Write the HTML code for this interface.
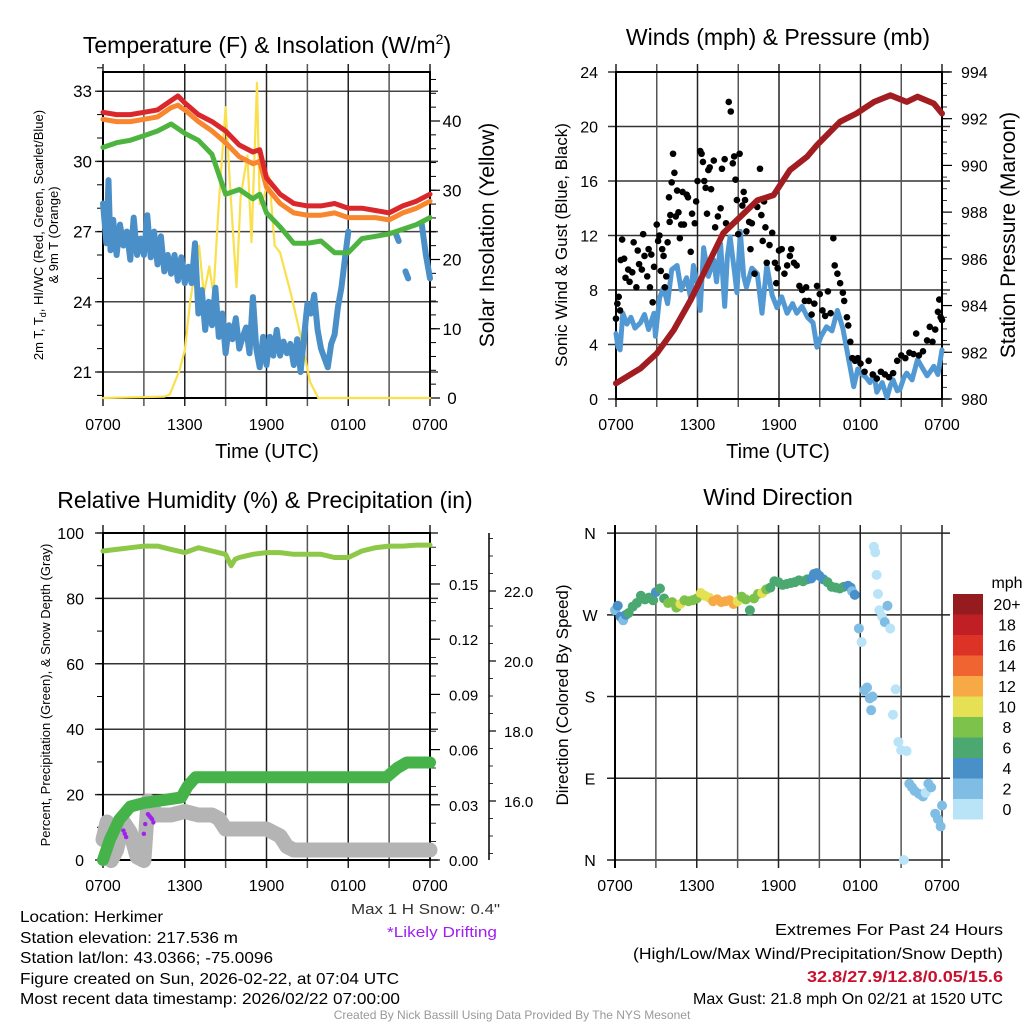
<!DOCTYPE html>
<html><head><meta charset="utf-8"><style>
body{margin:0;background:#fff}
svg{display:block;font-family:"Liberation Sans",sans-serif}
</style></head><body>
<svg id="fig" width="1024" height="1024" viewBox="0 0 1024 1024" xmlns="http://www.w3.org/2000/svg">
<rect width="1024" height="1024" fill="#fff"/>
<g id="tl"></g>
<g id="tr"></g>
<g id="bl"></g>
<g id="br"></g>
<text x="267" y="53" font-size="23" text-anchor="middle">Temperature (F) &amp; Insolation (W/m<tspan font-size="14" dy="-9">2</tspan><tspan dy="9">)</tspan></text>
<text x="778" y="45" font-size="23" text-anchor="middle">Winds (mph) &amp; Pressure (mb)</text>
<text x="265" y="508" font-size="23" text-anchor="middle">Relative Humidity (%) &amp; Precipitation (in)</text>
<text x="778" y="505" font-size="23" text-anchor="middle">Wind Direction</text>
<text x="267" y="458" font-size="20" text-anchor="middle">Time (UTC)</text>
<text x="778" y="458" font-size="20" text-anchor="middle">Time (UTC)</text>
<text transform="translate(43,235) rotate(-90)" font-size="13" text-anchor="middle">2m T, T<tspan font-size="9" dy="3">d</tspan><tspan dy="-3">, HI/WC (Red, Green, Scarlet/Blue)</tspan></text>
<text transform="translate(58,235) rotate(-90)" font-size="13" text-anchor="middle">&amp; 9m T (Orange)</text>
<text transform="translate(494,235) rotate(-90)" font-size="21" text-anchor="middle">Solar Insolation (Yellow)</text>
<text transform="translate(567,245) rotate(-90)" font-size="17" text-anchor="middle">Sonic Wind &amp; Gust (Blue, Black)</text>
<text transform="translate(1015,235) rotate(-90)" font-size="21" text-anchor="middle">Station Pressure (Maroon)</text>
<text transform="translate(50,695) rotate(-90)" font-size="13" text-anchor="middle">Percent, Precipitation (Green), &amp; Snow Depth (Gray)</text>
<text transform="translate(568,695) rotate(-90)" font-size="17" text-anchor="middle">Direction (Colored By Speed)</text>
<text x="351" y="914" font-size="15" fill="#333" textLength="149" lengthAdjust="spacingAndGlyphs">Max 1 H Snow: 0.4"</text>
<text x="387" y="937" font-size="15" fill="#a020f0" textLength="110" lengthAdjust="spacingAndGlyphs">*Likely Drifting</text>
<g font-size="16">
<text x="20" y="922" textLength="143" lengthAdjust="spacingAndGlyphs">Location: Herkimer</text>
<text x="20" y="943" textLength="218" lengthAdjust="spacingAndGlyphs">Station elevation: 217.536 m</text>
<text x="20" y="963" textLength="253" lengthAdjust="spacingAndGlyphs">Station lat/lon: 43.0366; -75.0096</text>
<text x="20" y="984" textLength="379" lengthAdjust="spacingAndGlyphs">Figure created on Sun, 2026-02-22, at 07:04 UTC</text>
<text x="20" y="1004" textLength="380" lengthAdjust="spacingAndGlyphs">Most recent data timestamp: 2026/02/22 07:00:00</text>
</g>
<g font-size="16">
<text x="775" y="935" textLength="228" lengthAdjust="spacingAndGlyphs">Extremes For Past 24 Hours</text>
<text x="633" y="959" textLength="370" lengthAdjust="spacingAndGlyphs">(High/Low/Max Wind/Precipitation/Snow Depth)</text>
<text x="807" y="982" fill="#c8102e" font-weight="bold" textLength="196" lengthAdjust="spacingAndGlyphs">32.8/27.9/12.8/0.05/15.6</text>
<text x="693" y="1004" textLength="310" lengthAdjust="spacingAndGlyphs">Max Gust: 21.8 mph On 02/21 at 1520 UTC</text>
</g>
<text x="512" y="1019" font-size="12" fill="#999" text-anchor="middle">Created By Nick Bassill Using Data Provided By The NYS Mesonet</text>
</svg>
<script>
// ---------- DATA ----------
const timeLabels = ["0700","1300","1900","0100","0700"];
const tempHours = [0,1,2,3,4,5,5.5,6,7,8,9,10,11,11.5,12,13,14,15,16,17,18,19,20,21,22,23,24];
const temp2m =    [32.1,32.0,32.0,32.1,32.2,32.6,32.8,32.5,32.0,31.7,31.3,30.7,30.4,30.5,29.3,28.6,28.2,28.1,28.1,28.2,28.0,28.0,27.9,27.8,28.1,28.3,28.6];
const temp9m =    [31.8,31.7,31.7,31.8,31.9,32.3,32.4,32.2,31.7,31.3,30.8,30.2,29.9,30.0,28.9,28.2,27.8,27.7,27.7,27.8,27.6,27.6,27.6,27.5,27.8,28.0,28.3];
const heatIndex = [30.6,30.8,30.9,31.1,31.3,31.6,31.4,31.2,30.9,30.3,28.6,28.8,28.4,28.6,27.8,27.2,26.5,26.5,26.6,26.1,26.1,26.7,26.8,26.9,27.1,27.3,27.6];
const dewHours = [0,0.25,0.4,0.55,0.75,1,1.25,1.5,1.75,2,2.25,2.5,2.75,3,3.25,3.5,3.75,4,4.25,4.5,4.75,5,5.25,5.5,5.75,6,6.25,6.5,6.75,7,7.25,7.5,7.75,8,8.25,8.5,8.75,9,9.25,9.5,9.75,10,10.25,10.5,10.75,11,11.25,11.5,11.75,12,12.25,12.5,12.75,13,13.25,13.5,13.75,14,14.25,14.5,14.75,15,15.25,15.5,15.75,16,16.25,16.5,16.75,17,17.25,17.5,17.75,18,null,21.5,21.7,null,22.2,22.4,null,23.4,23.7,24];
const dewValues = [28.2,26.5,29.2,26.2,27.5,26.0,27.3,26.4,27.0,25.8,27.6,26.0,26.7,26.0,27.7,25.9,27.0,25.6,26.8,25.3,26.0,25.2,26.0,24.9,25.9,24.8,25.5,24.8,26.5,23.5,24.5,22.8,24.0,23.0,24.6,22.5,23.5,21.8,23.0,22.4,23.3,22.0,22.5,22.9,21.8,24.2,22.0,21.2,22.5,21.3,22.5,21.7,22.8,21.7,22.3,21.8,22.2,21.3,22.4,21.0,22.5,23.9,23.5,24.3,22.8,22.0,21.6,21.2,22.2,22.6,23.8,24.6,25.8,27.0,null,26.9,26.6,null,25.3,25.0,null,27.3,26.0,25.0];
const solarHours = [0,4.5,4.9,5.6,6.0,6.4,7.05,7.4,7.8,8.1,8.5,9.0,9.3,9.8,10.1,10.6,10.9,11.3,11.5,11.8,12.2,12.6,13.0,13.8,14.5,15.2,15.8,24];
const solarValues = [0,0.2,0.5,3.9,6.9,14,22,15,19,15,28,42,31.5,16,29,35,22.5,45.5,28,29,32,22,21,15,9,2.3,0,0];

const windHours = [0,0.15,0.3,0.5,0.8,1.1,1.4,1.8,2.1,2.4,2.8,2.9,3.2,3.5,3.8,4.1,4.5,4.8,5.2,5.5,5.7,6.0,6.2,6.45,6.8,7.2,7.4,7.7,8.0,8.2,8.4,8.7,8.9,9.15,9.4,9.6,10.0,10.4,10.75,11.1,11.5,11.85,12.2,12.6,13.0,13.3,13.7,14.1,14.5,14.8,15.1,15.5,15.9,16.3,16.7,17.0,17.3,17.5,17.8,18.0,18.4,18.7,19.0,19.2,19.6,19.95,20.2,20.4,20.7,20.9,21.2,21.4,21.8,22.2,22.6,22.9,23.2,23.4,23.7,24];
const windSpeed = [4.8,3.8,3.6,6.3,5.5,6.0,5.2,5.6,6.2,5.1,6.3,4.6,7.4,8.2,7.0,9.5,9.8,8.0,8.9,7.4,9.8,8.4,6.5,11.1,9.0,10.2,8.6,11.4,6.8,10.5,11.9,9.5,7.8,12.3,9.0,8.2,9.6,9.2,6.3,9.8,7.6,6.7,7.5,6.3,7.0,6.3,6.8,6.0,5.6,3.8,4.6,5.3,5.0,6.5,5.2,3.6,2.0,0.9,2.2,1.9,1.6,1.2,1.8,0.5,1.2,0.1,1.0,1.4,0.6,0.7,1.6,1.9,1.4,2.9,2.2,1.7,2.1,2.4,1.8,3.6];
const gustHours = [0,0.1,0.2,0.3,0.35,0.45,0.6,0.7,0.9,1.0,1.2,1.3,1.5,1.6,1.7,1.9,2.0,2.1,2.3,2.4,2.5,2.6,2.7,2.8,3.0,3.1,3.2,3.3,3.4,3.5,3.6,3.7,3.8,3.9,3.95,4.0,4.1,4.2,4.3,4.4,4.5,4.6,4.7,4.8,4.9,5.0,5.2,5.3,5.5,5.6,5.8,5.9,6.0,6.2,6.3,6.4,6.5,6.6,6.7,6.8,6.9,7.0,7.2,7.3,7.5,7.7,7.8,8.0,8.1,8.3,8.45,8.6,8.7,8.8,8.9,9.0,9.1,9.3,9.4,9.5,9.6,9.8,9.9,10.0,10.2,10.4,10.6,10.7,10.8,10.9,11.0,11.1,11.3,11.5,11.7,11.8,11.9,12.0,12.2,12.4,12.6,12.8,12.9,13.1,13.3,13.5,13.7,13.9,14.0,14.2,14.4,14.6,14.8,15.0,15.2,15.4,15.6,15.8,16.0,16.1,16.3,16.5,16.7,16.8,17.0,17.1,17.25,17.4,17.6,17.8,18.0,18.3,18.6,18.9,19.2,19.5,19.8,20.1,20.4,20.7,21.0,21.3,21.6,21.9,22.1,22.3,22.6,22.9,23.1,23.3,23.5,23.7,23.8,23.9,24.0];
const gustValues = [5.9,7.0,7.5,6.5,10.2,11.7,10.3,8.9,9.5,8.6,9.3,11.5,8.2,10.9,9.9,9.5,12.1,10.5,9.0,11.0,8.2,10.6,7.1,9.7,12.8,11.6,12.0,9.4,11.0,10.5,8.2,9.0,11.5,14.8,13.0,13.5,15.9,18.0,16.6,13.4,15.3,13.7,11.8,12.8,15.2,12.8,15.0,14.8,10.8,13.6,12.9,14.5,16.0,18.2,18.0,17.4,16.0,15.5,13.6,16.8,17.0,15.4,17.5,12.6,13.4,14.0,16.9,17.6,12.9,21.8,21.1,17.3,17.8,16.1,14.6,12.1,18.0,14.2,15.2,14.6,12.3,13.0,11.0,12.9,9.2,14.1,16.9,13.5,11.6,14.5,12.6,10.0,11.3,12.2,10.0,8.5,9.6,10.9,11.0,9.2,9.8,10.5,11.0,10.0,9.8,8.3,8.0,7.2,8.2,7.2,6.2,7.0,8.3,7.7,6.5,6.1,7.9,6.3,11.8,9.8,9.2,8.5,7.8,7.2,6.0,5.4,4.2,3.0,2.8,3.0,2.6,2.0,2.8,1.8,1.5,2.0,1.8,1.6,1.9,2.8,3.2,3.0,3.4,3.3,4.8,3.2,3.5,4.3,5.3,4.2,5.1,6.4,7.3,6.0,5.8,6.2];
const pressHours = [0,1.8,3.0,4.25,5.5,6.7,7.9,9.15,10.4,11.6,12.8,14.06,14.8,16.5,17.7,19.0,20.2,21.4,22.2,23.4,24];
const pressValues = [980.67,981.31,981.95,982.95,984.24,985.67,987.1,987.8,988.5,988.73,989.8,990.37,990.87,991.87,992.22,992.72,993.0,992.72,992.94,992.65,992.22];

const rhHours = [0,1,2,3,4,5,6,7,8,9,9.4,9.7,10,11,12,13,14,15,16,17,18,19,20,21,22,23,24];
const rhValues = [94.5,95,95.5,96,96,95,94,95.5,94.5,93.5,90,92,92.5,93.5,94,94,93.5,93.5,93.5,92.5,92.5,94.5,95.5,96,96,96.3,96.3];
const precipHours = [0,0.5,1.2,2,3,5.75,6.2,6.8,20.8,21.6,22.3,24];
const precipValues = [0,0.011,0.022,0.029,0.031,0.034,0.04,0.045,0.045,0.05,0.053,0.053];
const snowHours = [0,0.3,0.6,1,1.5,2,2.5,3,3.3,3.6,4,5,6,7,8,8.5,9,10,11,12,13,13.5,14,18,24];
const snowValues = [14.9,15.4,14.3,14.6,15.4,15.1,14.4,14.3,16.0,15.8,15.6,15.6,15.7,15.6,15.6,15.5,15.2,15.2,15.2,15.2,15.0,14.7,14.6,14.6,14.6];
const driftHours = [1.5,1.6,1.7,3.0,3.1,3.3,3.4,3.5,3.6,3.7];
const driftPct = [9,8,7,8,11,14,13.5,13,12.5,11.5];

const dirHours = [0,0.2,0.4,0.6,0.8,1.0,1.3,1.6,1.9,2.2,2.5,2.8,3.0,3.3,3.6,3.9,4.2,4.5,4.8,5.1,5.4,5.7,6.0,6.3,6.6,6.9,7.2,7.5,7.8,8.1,8.4,8.7,9.0,9.3,9.6,9.9,10.2,10.5,10.8,11.1,11.4,11.7,12.0,12.3,12.6,12.9,13.2,13.5,13.8,14.1,14.4,14.6,14.8,15.0,15.3,15.6,15.9,16.2,16.5,16.8,17.1,17.3,17.4,17.6,17.9,18.1,18.3,18.5,18.7,18.8,18.9,19.0,19.1,19.2,19.3,19.4,19.6,19.8,20.0,20.2,20.4,20.6,20.8,21.0,21.2,21.4,21.6,21.8,22.0,22.3,22.6,22.8,23.0,23.2,23.5,23.7,23.9,24.0];
const dirValues = [275,280,268,264,270,272,279,283,291,287,289,286,295,299,288,283,284,278,282,286,285,286,288,294,291,289,285,287,284,285,286,282,285,290,287,275,288,293,294,298,300,307,306,303,304,305,306,308,307,309,310,315,316,313,309,306,301,300,299,301,302,300,296,292,255,240,187,190,178,165,180,345,339,314,293,275,268,262,280,255,160,188,130,121,0,120,84,80,76,73,70,74,84,80,51,45,37,60,69,73,76,75];
const dirSpeeds = [3,4,4,3,5,6,6,7,6,6,6,7,5,6,7,8,8,9,10,8,9,9,8,10,10,11,12,12,13,12,12,12,11,8,9,7,9,8,10,8,7,6,6,7,6,6,6,6,7,6,5,4,4,4,5,6,6,7,6,7,5,4,3,4,3,1,3,3,3,3,2,1,1,1,1,1,1,3,3,1,1,1,1,1,0,1,3,2,3,3,2,1,3,3,3,3,3,3,3,4,5,4];
const legendLabels = ["20+","18","16","14","12","10","8","6","4","2","0"];
const legendColors = ["#961b1e","#c01f26","#dd3327","#ef6431","#f6a944","#e6e055","#7dc24b","#4aa870","#4a90c8","#7fbde4","#b9e4f8"];

// ---------- HELPERS ----------
const NS="http://www.w3.org/2000/svg";
function el(tag, parent){const e=document.createElementNS(NS,tag);parent.appendChild(e);return e;}
function line(p,x1,y1,x2,y2,stroke,w){const l=el('line',p);l.setAttribute('x1',x1);l.setAttribute('y1',y1);l.setAttribute('x2',x2);l.setAttribute('y2',y2);l.setAttribute('stroke',stroke);l.setAttribute('stroke-width',w);return l;}
function txt(p,x,y,s,size,anchor){const t=el('text',p);t.setAttribute('x',x);t.setAttribute('y',y);t.setAttribute('font-size',size);t.setAttribute('text-anchor',anchor||'middle');t.textContent=s;return t;}
function pathFrom(hours,vals,xs,ys){let d='',pen=false;for(let i=0;i<hours.length;i++){if(hours[i]===null||vals[i]===null||vals[i]===undefined){pen=false;continue;}d+=(pen?'L':'M')+xs(hours[i]).toFixed(1)+','+ys(vals[i]).toFixed(1);pen=true;}return d;}
function series(p,hours,vals,xs,ys,color,w){const pa=el('path',p);pa.setAttribute('d',pathFrom(hours,vals,xs,ys));pa.setAttribute('fill','none');pa.setAttribute('stroke',color);pa.setAttribute('stroke-width',w);pa.setAttribute('stroke-linejoin','round');pa.setAttribute('stroke-linecap','round');return pa;}
function xScaleFor(x0,x1){return h=>x0+h/24*(x1-x0);}
function timeGrid(p,xs,y0,y1,labY){for(let k=0;k<=8;k++){const x=xs(k*3);const g=line(p,x,y0-8,x,y1+8,k%2?'#555':'#222',1.5);}
 for(let k=0;k<timeLabels.length;k++){const t=txt(p,xs(k*6),labY,timeLabels[k],16);}}
function hGrid(p,x0,x1,y,color){const g=line(p,x0-8,y,x1+8,y,color||'#333',1.5);}
function frame(p,x0,y0,x1,y1){const r=el('rect',p);r.setAttribute('x',x0);r.setAttribute('y',y0);r.setAttribute('width',x1-x0);r.setAttribute('height',y1-y0);r.setAttribute('fill','none');r.setAttribute('stroke','#000');r.setAttribute('stroke-width',2);}

// ---------- TEMPERATURE PANEL ----------
(function(){const p=document.getElementById('tl');const xs=xScaleFor(103,430);
 const yL=t=>372-(t-21)*23.4, yR=s=>398-s*6.925;
 [21,24,27,30,33].forEach(v=>{hGrid(p,103,430,yL(v),'#444');const t=txt(p,92,yL(v)+6,String(v),17,'end');});
 for(let v=20;v<=34;v++){line(p,97,yL(v),103,yL(v),'#000',1);}
 [0,10,20,30,40].forEach(v=>{line(p,430,yR(v),440,yR(v),'#000',1.2);const t=txt(p,452,yR(v)+6,String(v),17,'middle');});
 for(let v=0;v<=46;v+=2){line(p,430,yR(v),436,yR(v),'#000',1);}
 timeGrid(p,xs,72,398,430);frame(p,103,72,430,398);
 let s;
 s=series(p,solarHours,solarValues,xs,yR,'#f9e04c',2.2);
 s=series(p,dewHours,dewValues,xs,yL,'#4a8fc8',6);
 s=series(p,tempHours,heatIndex,xs,yL,'#4cb43f',5);
 s=series(p,tempHours,temp9m,xs,yL,'#f7862e',5);
 s=series(p,tempHours,temp2m,xs,yL,'#d9272c',5);
})();

// ---------- WINDS PANEL ----------
(function(){const p=document.getElementById('tr');const xs=xScaleFor(616,942);
 const yW=v=>399-v*13.625, yP=v=>399-(v-980)*23.36;
 [0,4,8,12,16,20,24].forEach(v=>{hGrid(p,616,942,yW(v),'#333');const t=txt(p,598,yW(v)+6,String(v),16,'end');});
 [980,982,984,986,988,990,992,994].forEach(v=>{line(p,942,yP(v),952,yP(v),'#000',1.2);const t=txt(p,961,yP(v)+6,String(v),16,'start');});
 for(let v=980;v<=994;v+=0.5){line(p,942,yP(v),947,yP(v),'#000',0.8);}
 timeGrid(p,xs,72,399,430);frame(p,616,72,942,399);
 let s=series(p,windHours,windSpeed,xs,yW,'#5299d3',5);
 for(let i=0;i<gustHours.length;i++){if(gustValues[i]===undefined)continue;const c=el('circle',p);c.setAttribute('cx',xs(gustHours[i]));c.setAttribute('cy',yW(gustValues[i]));c.setAttribute('r',3.3);c.setAttribute('fill','#000');
  
  }
 s=series(p,pressHours,pressValues,xs,yP,'#a11d21',6);
})();

// ---------- HUMIDITY PANEL ----------
(function(){const p=document.getElementById('bl');const xs=xScaleFor(103,430);
 const yPct=v=>860-v*3.27, yPr=v=>860-v*1840, ySn=v=>801-(v-16)*35;
 [0,20,40,60,80,100].forEach(v=>{hGrid(p,103,430,yPct(v),'#333');const t=txt(p,84,yPct(v)+6,String(v),16,'end');});
 for(let v=0;v<=100;v+=10){line(p,97,yPct(v),103,yPct(v),'#000',1);}
 [0,0.03,0.06,0.09,0.12,0.15].forEach(v=>{line(p,430,yPr(v),440,yPr(v),'#000',1.2);const t=txt(p,449,yPr(v)+6,v.toFixed(2),15,'start');});
 for(let v=0;v<=0.175;v+=0.01){line(p,430,yPr(v),436,yPr(v),'#000',0.8);}
 line(p,489,533,489,860,'#000',1.5);
 [16,18,20,22].forEach(v=>{line(p,489,ySn(v),496,ySn(v),'#000',1.2);const t=txt(p,504,ySn(v)+6,v.toFixed(1),15,'start');});
 for(let v=14.5;v<=23.5;v+=0.5){line(p,489,ySn(v),493,ySn(v),'#000',0.8);}
 timeGrid(p,xs,533,860,891);frame(p,103,533,430,860);
 let s=series(p,snowHours,snowValues,xs,ySn,'#b4b4b4',15);
 s=series(p,precipHours,precipValues,xs,yPr,'#46b34a',12);
 s=series(p,rhHours,rhValues,xs,yPct,'#8dc849',5);
 for(let i=0;i<driftHours.length;i++){const c=el('circle',p);c.setAttribute('cx',xs(driftHours[i]));c.setAttribute('cy',yPct(driftPct[i]));c.setAttribute('r',2.2);c.setAttribute('fill','#a020f0');
  
  }
})();

// ---------- WIND DIRECTION PANEL ----------
(function(){const p=document.getElementById('br');const xs=xScaleFor(615,942);
 const yD=d=>860-d*0.908;
 [[360,'N'],[270,'W'],[180,'S'],[90,'E'],[0,'N']].forEach(a=>{hGrid(p,615,942,yD(a[0]),'#222');const t=txt(p,590,yD(a[0])+6,a[1],16,'middle');});
 timeGrid(p,xs,533,860,891);
 line(p,615,525,615,868,'#000',2);
 function colorFor(s){const idx=Math.min(10,Math.floor(s/2));return legendColors[10-idx];}
 for(let i=0;i<dirHours.length;i++){const c=el('circle',p);c.setAttribute('cx',xs(dirHours[i]));c.setAttribute('cy',yD(dirValues[i]));c.setAttribute('r',5);c.setAttribute('fill',colorFor(dirSpeeds[i]));
  
  }
 const lg=el('g',p);
 
 
 txt(lg,1007,588,'mph',16,'middle');
 for(let i=0;i<legendLabels.length;i++){const r=el('rect',lg);r.setAttribute('x',953);r.setAttribute('y',594+i*20.5);r.setAttribute('width',30);r.setAttribute('height',20.5);r.setAttribute('fill',legendColors[i]);
  
  
  const t=txt(lg,1007,610+i*20.5,legendLabels[i],16,'middle');
  
  }
})();
</script>
</body></html>
